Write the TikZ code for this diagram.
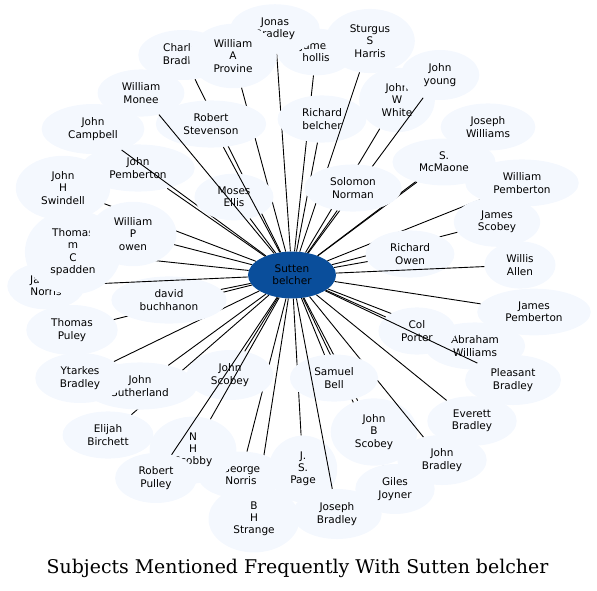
\documentclass[tikz,border=0pt]{standalone}
\usepackage{fontspec}
\setmainfont{DejaVu Sans}
\newfontfamily\titlefont{DejaVu Serif}
\usetikzlibrary{shapes.geometric}
\definecolor{pale}{HTML}{F4F8FE}
\definecolor{hub}{HTML}{0A4E9B}
\tikzset{
  subj/.style={ellipse, fill=pale, align=center, font=\fontsize{10.5}{12.2}\selectfont,
    inner xsep=11.5pt, inner ysep=6.5pt},
  hubnode/.style={subj, fill=hub},
  link/.style={draw=black, line width=0.9pt},
  caption/.style={font=\titlefont\fontsize{18.9}{22}\selectfont},
}

\begin{document}
\begin{tikzpicture}[x=1pt, y=-1pt]
  \useasboundingbox (0,0) rectangle (597,590);
  \node[hubnode] (sb) at (292,275) {Sutten\\belcher};

  % each subject, then its link to the hub
  \node[subj] (hollis) at (316,52) {James\\hollis};
  \draw[link] (sb) -- (hollis);
  \node[subj] (jonas) at (275,29) {Jonas\\Bradley};
  \draw[link] (sb) -- (jonas);
  \node[subj] (charles) at (183,55) {Charles\\Bradley};
  \draw[link] (sb) -- (charles);
  \node[subj] (provine) at (233,56) {William\\A\\Provine};
  \draw[link] (sb) -- (provine);
  \node[subj] (rbelcher) at (322,119) {Richard\\belcher};
  \draw[link] (sb) -- (rbelcher);
  \node[subj] (sturgus) at (370,41) {Sturgus\\S\\Harris};
  \draw[link] (sb) -- (sturgus);
  \node[subj] (jwwhite) at (397,100) {John\\W\\White};
  \draw[link] (sb) -- (jwwhite);
  \node[subj] (jyoung) at (440,75) {John\\young};
  \draw[link] (sb) -- (jyoung);
  \node[subj] (jwilliams) at (488,127) {Joseph\\Williams};
  \draw[link] (sb) -- (jwilliams);
  \node[subj] (mcmaone) at (444,162) {S.\\McMaone};
  \draw[link] (sb) -- (mcmaone);
  \node[subj] (solomon) at (353,188) {Solomon\\Norman};
  \draw[link] (sb) -- (solomon);
  \node[subj] (wpemberton) at (522,183) {William\\Pemberton};
  \draw[link] (sb) -- (wpemberton);
  \node[subj] (jscobey) at (497,222) {James\\Scobey};
  \draw[link] (sb) -- (jscobey);
  \node[subj] (rowen) at (410,254) {Richard\\Owen};
  \draw[link] (sb) -- (rowen);
  \node[subj] (wallen) at (520,265) {Willis\\Allen};
  \draw[link] (sb) -- (wallen);
  \node[subj] (jpemberton) at (534,312) {James\\Pemberton};
  \draw[link] (sb) -- (jpemberton);
  \node[subj] (abraham) at (475,346) {Abraham\\Williams};
  \draw[link] (sb) -- (abraham);
  \node[subj] (colporter) at (417,331) {Col\\Porter};
  \draw[link] (sb) -- (colporter);
  \node[subj] (pleasant) at (513,380) {Pleasant\\Bradley};
  \draw[link] (sb) -- (pleasant);
  \node[subj] (everett) at (472,421) {Everett\\Bradley};
  \draw[link] (sb) -- (everett);
  \node[subj] (jspage) at (303,469) {J.\\S.\\Page};
  \draw[link] (sb) -- (jspage);
  \node[subj] (giles) at (395,489) {Giles\\Joyner};
  \draw[link] (sb) -- (giles);
  \node[subj] (jbscobey) at (374,432) {John\\B\\Scobey};
  \draw[link] (sb) -- (jbscobey);
  \node[subj] (jbradley) at (442,460) {John\\Bradley};
  \draw[link] (sb) -- (jbradley);
  \node[subj] (sbell) at (334,378) {Samuel\\Bell};
  \draw[link] (sb) -- (sbell);
  \node[subj] (josbradley) at (337,514) {Joseph\\Bradley};
  \draw[link] (sb) -- (josbradley);
  \node[subj] (strange) at (254,519) {B\\H\\Strange};
  \draw[link] (sb) -- (strange);
  \node[subj] (gnorris) at (241,475) {George\\Norris};
  \draw[link] (sb) -- (gnorris);
  \node[subj] (johnscobey) at (230,375) {John\\Scobey};
  \draw[link] (sb) -- (johnscobey);
  \node[subj] (nhscobby) at (193,450) {N\\H\\Scobby};
  \draw[link] (sb) -- (nhscobby);
  \node[subj] (rpulley) at (156,478) {Robert\\Pulley};
  \draw[link] (sb) -- (rpulley);
  \node[subj] (elijah) at (108,435) {Elijah\\Birchett};
  \draw[link] (sb) -- (elijah);
  \node[subj] (sutherland) at (140,386) {John\\Sutherland};
  \draw[link] (sb) -- (sutherland);
  \node[subj] (ytarkes) at (80,378) {Ytarkes\\Bradley};
  \draw[link] (sb) -- (ytarkes);
  \node[subj] (tpuley) at (72,330) {Thomas\\Puley};
  \draw[link] (sb) -- (tpuley);
  \node[subj] (buchhanon) at (169,300) {david\\buchhanon};
  \draw[link] (sb) -- (buchhanon);
  \node[subj] (jnorris) at (46,286) {James\\Norris};
  \draw[link] (sb) -- (jnorris);
  \node[subj] (swindell) at (63,188) {John\\H\\Swindell};
  \draw[link] (sb) -- (swindell);
  \node[subj] (spadden) at (73,252) {Thomas\\m\\C\\spadden};
  \draw[link] (sb) -- (spadden);
  \node[subj] (wpowen) at (133,234) {William\\P\\owen};
  \draw[link] (sb) -- (wpowen);
  \node[subj] (jopemberton) at (138,168) {John\\Pemberton};
  \draw[link] (sb) -- (jopemberton);
  \node[subj] (campbell) at (93,129) {John\\Campbell};
  \draw[link] (sb) -- (campbell);
  \node[subj] (moses) at (234,197) {Moses\\Ellis};
  \draw[link] (sb) -- (moses);
  \node[subj] (stevenson) at (211,124) {Robert\\Stevenson};
  \draw[link] (sb) -- (stevenson);
  \node[subj] (monee) at (141,93) {William\\Monee};
  \draw[link] (sb) -- (monee);

  \node[caption] (title) at (297.5,568) {Subjects Mentioned Frequently With Sutten belcher};
\end{tikzpicture}
\end{document}
